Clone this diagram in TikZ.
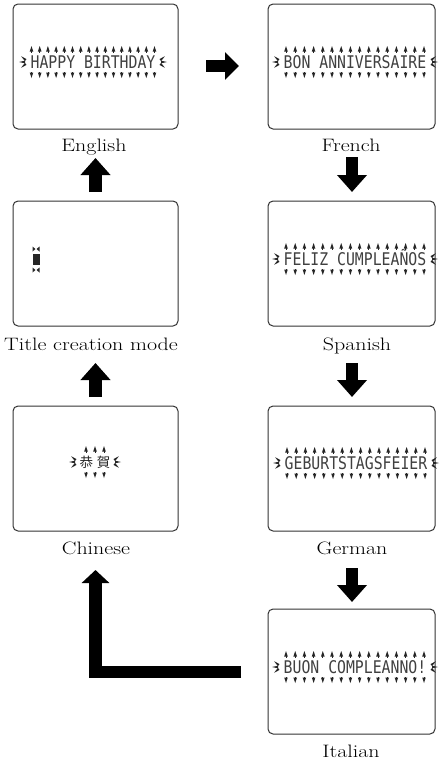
\documentclass[tikz,border=0pt]{standalone}
\usepackage{fontspec}
\newfontfamily\lcdfont{DejaVu Sans Mono}
\newfontfamily\cjkfont{Noto Sans CJK TC}
\usetikzlibrary{arrows.meta}
\newcommand\lcdrow[4]{%
  \foreach \k in {1,...,#3}{%
    \pgfmathsetmacro\xx{#1+(\k-(#3+1)/2)*#4}%
    \fill[black!85] (\xx-1.8,#2-10.5) -- (\xx,#2-16) -- (\xx+1.8,#2-10.5) -- cycle;
    \draw[black!85,line width=0.7pt] (\xx,#2-11) -- (\xx,#2-9.5);
    \fill[black!85] (\xx-1.8,#2+10.5) -- (\xx,#2+16) -- (\xx+1.8,#2+10.5) -- cycle;
    \draw[black!85,line width=0.7pt] (\xx,#2+11) -- (\xx,#2+9.5);
  }}
\newcommand\lcdspikes[3]{%
  \foreach \a in {140,180,220}{\fill[black!85,shift={(#1,#3)},rotate=\a] (3,-1.3) -- (9,0) -- (3,1.3) -- cycle;}
  \foreach \a in {-40,0,40}{\fill[black!85,shift={(#2,#3)},rotate=\a] (3,-1.3) -- (9,0) -- (3,1.3) -- cycle;}}
\begin{document}
\begin{tikzpicture}[x=1pt,y=-1pt,
  screen/.style={draw=black!80, line width=1pt, rounded corners=5pt, inner sep=0pt, minimum height=125pt},
  lscreen/.style={screen, minimum width=165pt},
  rscreen/.style={screen, minimum width=167pt},
  lcd/.style={font=\lcdfont\fontsize{14.8}{14.8}\selectfont, text=black!75, inner sep=0pt, anchor=base},
  lbl/.style={font=\fontsize{18}{20}\selectfont, inner sep=0pt, anchor=base},
  blk/.style={line width=12.5pt, -{Triangle[width=29pt,length=17pt]}},
  blkh/.style={line width=12pt, -{Triangle[width=27pt,length=14pt]}},
  blkl/.style={line width=12.5pt, line join=miter, -{Triangle[width=27pt,length=13pt]}}]
\useasboundingbox (0,0) rectangle (441,763);
\fill[white] (0,0) rectangle (441,763);
% screens
\node[lscreen] (eng) at (95.5,66.5) {};
\node[rscreen] (fre) at (351.5,66.5) {};
\node[lscreen] (tcm) at (95.5,263.5) {};
\node[rscreen] (spa) at (351.5,263.5) {};
\node[lscreen] (chi) at (95.5,468.5) {};
\node[rscreen] (ger) at (351.5,468.5) {};
\node[rscreen] (ita) at (351.5,671.5) {};
% labels
\node[lbl] (lEng) at (94,151) {\scalebox{1.22}[1]{English}};
\node[lbl] (lFre) at (351,151) {\scalebox{1.22}[1]{French}};
\node[lbl] (lTcm) at (91,350) {\scalebox{1.22}[1]{Title creation mode}};
\node[lbl] (lSpa) at (357,350) {\scalebox{1.22}[1]{Spanish}};
\node[lbl] (lChi) at (96,554) {\scalebox{1.22}[1]{Chinese}};
\node[lbl] (lGer) at (352,554) {\scalebox{1.22}[1]{German}};
\node[lbl] (lIta) at (351,757) {\scalebox{1.22}[1]{Italian}};
% screen contents
\node[lcd] (tEng) at (93,68.4) {\scalebox{1}[1.18]{HAPPY BIRTHDAY}};
\lcdrow{93}{62}{16}{8.2}
\lcdspikes{28}{158}{62}
\node[lcd] (tFre) at (355,68.4) {\scalebox{1}[1.18]{BON ANNIVERSAIRE}};
\lcdrow{355}{62}{16}{9.2}
\lcdspikes{281}{429}{62}
\node[lcd] (tSpa) at (355,265.4) {\scalebox{1}[1.18]{FELIZ CUMPLEAÑOS}};
\lcdrow{355}{259}{16}{9.2}
\lcdspikes{281}{429}{259}
\node[lcd] (tGer) at (356,469.4) {\scalebox{1}[1.18]{GEBURTSTAGSFEIER}};
\lcdrow{356}{463}{16}{9.2}
\lcdspikes{282}{430}{463}
\node[lcd] (tIta) at (355,673.4) {\scalebox{1}[1.18]{BUON COMPLEANNO!}};
\lcdrow{355}{667}{16}{9.2}
\lcdspikes{281}{429}{667}
\node[font=\cjkfont\fontsize{13.5}{13.5}\selectfont, text=black!85, inner sep=0pt] (tChi) at (95,462) {恭\hspace{4pt}賀};
\lcdrow{95}{462}{3}{9}
\lcdspikes{78}{112}{462}
% cursor
\fill[black!85] (32.5,254) rectangle (39.5,265);
\fill[black!85] (32.5,246.5) -- (35.5,249) -- (32.5,251.5) -- cycle;
\fill[black!85] (39.5,246.5) -- (36.5,249) -- (39.5,251.5) -- cycle;
\fill[black!85] (32.5,267.5) -- (35.5,270) -- (32.5,272.5) -- cycle;
\fill[black!85] (39.5,267.5) -- (36.5,270) -- (39.5,272.5) -- cycle;
% arrow coordinates
\coordinate (r1a) at (206,66);  \coordinate (r1b) at (239,66);
\coordinate (d1a) at (352,157); \coordinate (d1b) at (352,192);
\coordinate (d2a) at (352,363); \coordinate (d2b) at (352,397);
\coordinate (d3a) at (352,568); \coordinate (d3b) at (352,602);
\coordinate (u1a) at (95.5,192); \coordinate (u1b) at (95.5,158);
\coordinate (u2a) at (95.5,397); \coordinate (u2b) at (95.5,363);
\coordinate (La) at (241,672);  \coordinate (Lb) at (95.5,570);
\draw[blkh] (r1a) -- (r1b);
\draw[blk] (d1a) -- (d1b);
\draw[blk] (d2a) -- (d2b);
\draw[blk] (d3a) -- (d3b);
\draw[blk] (u1a) -- (u1b);
\draw[blk] (u2a) -- (u2b);
\draw[blkl] (La) -| (Lb);
\end{tikzpicture}
\end{document}
